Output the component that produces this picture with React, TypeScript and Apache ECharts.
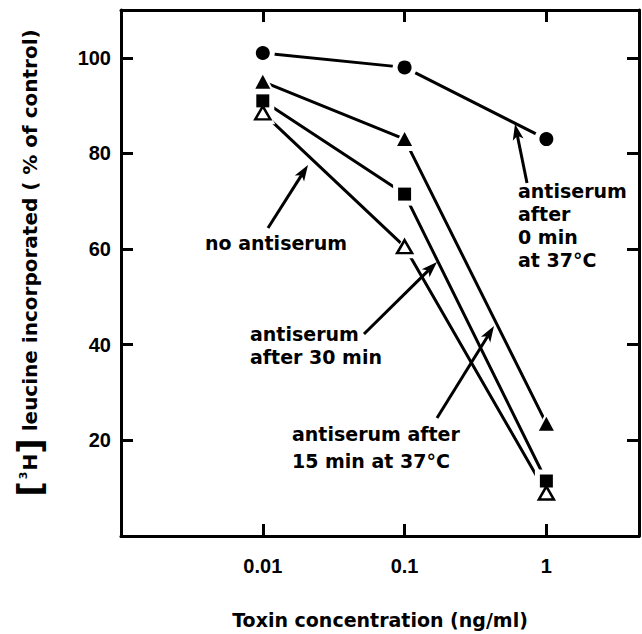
import React, { useEffect, useRef } from "react";
import * as echarts from "echarts";

// ---- data ----
const concentrations = [0.01, 0.1, 1];
const xTickLabels = ["0.01", "0.1", "1"];
const after0min = [101, 98, 83];
const after15min = [95, 83, 23.5];
const after30min = [91, 71.5, 11.5];
const noAntiserum = [88.5, 60.5, 9];

const FONT = '"DejaVu Sans", sans-serif';
const TICK_FONT = '"Liberation Sans", Arial, sans-serif';

type Group = {
  name: string;
  values: number[];
  symbol: string;
  size: number | number[];
  open: boolean;
};

const groups: Group[] = [
  { name: "antiserum after 0 min", values: after0min, symbol: "circle", size: 14, open: false },
  { name: "antiserum after 15 min", values: after15min, symbol: "triangle", size: [15, 14], open: false },
  { name: "antiserum after 30 min", values: after30min, symbol: "rect", size: 13, open: false },
  { name: "no antiserum", values: noAntiserum, symbol: "triangle", size: [15, 13], open: true },
];

function grow(s: number | number[], d: number): number | number[] {
  return Array.isArray(s) ? s.map((v) => v + d) : s + d;
}

function arrow(x1: number, y1: number, x2: number, y2: number) {
  const dx = x2 - x1;
  const dy = y2 - y1;
  const len = Math.hypot(dx, dy);
  const ux = dx / len;
  const uy = dy / len;
  const px = -uy;
  const py = ux;
  const L = 16;
  const W = 5.5;
  const bx = x2 - ux * L;
  const by = y2 - uy * L;
  const nx = x2 - ux * (L - 4);
  const ny = y2 - uy * (L - 4);
  return [
    {
      type: "line",
      shape: { x1, y1, x2: nx, y2: ny },
      style: { stroke: "#000", lineWidth: 3 },
    },
    {
      type: "polygon",
      shape: {
        points: [
          [x2, y2],
          [bx + px * W, by + py * W],
          [nx, ny],
          [bx - px * W, by - py * W],
        ],
      },
      style: { fill: "#000" },
    },
  ];
}

function annotation(x: number, y: number, text: string, lineHeight: number) {
  return {
    type: "text",
    x,
    y,
    style: {
      text,
      fill: "#000",
      fontFamily: FONT,
      fontWeight: "bold",
      fontSize: 19,
      lineHeight,
      align: "left",
      verticalAlign: "top",
    },
  };
}

export default function App() {
  const ref = useRef<HTMLDivElement>(null);

  useEffect(() => {
    if (!ref.current) return;
    const chart = echarts.init(ref.current, null, { renderer: "svg" });

    const axisLine = { show: true, onZero: false, lineStyle: { color: "#000", width: 3 } };
    const axisTick = { show: true, inside: true, length: 12, lineStyle: { color: "#000", width: 3 } };

    const xFormatter = (v: number) => {
      const i = concentrations.findIndex((c) => Math.abs(Math.log10(c) - Math.log10(v)) < 1e-6);
      return i >= 0 ? xTickLabels[i] : "";
    };

    const lineSeries = groups.map((g) => ({
      type: "line",
      name: g.name,
      data: concentrations.map((c, i) => [c, g.values[i]]),
      symbol: "none",
      lineStyle: { color: "#000", width: 3, opacity: 1 },
      z: 2,
      silent: true,
    }));
    const haloSeries = groups.map((g) => ({
      type: "scatter",
      name: g.name + " halo",
      data: concentrations.map((c, i) => [c, g.values[i]]),
      symbol: g.symbol,
      symbolSize: grow(g.size, 10),
      itemStyle: { color: "#fff", opacity: 1 },
      z: 3,
      silent: true,
    }));
    const markerSeries = groups.map((g) => ({
      type: "scatter",
      name: g.name,
      data: concentrations.map((c, i) => [c, g.values[i]]),
      symbol: g.symbol,
      symbolSize: g.size,
      itemStyle: g.open
        ? { color: "#fff", borderColor: "#000", borderWidth: 2.5, opacity: 1 }
        : { color: "#000", opacity: 1 },
      z: 4,
      silent: true,
    }));

    chart.setOption({
      animation: false,
      backgroundColor: "#fff",
      grid: { left: 121, top: 10, right: 3, bottom: 98, containLabel: false },
      xAxis: [
        {
          type: "log",
          logBase: 10,
          min: 0.001,
          max: 4.5,
          position: "bottom",
          axisLine,
          axisTick,
          splitLine: { show: false },
          axisLabel: {
            show: true,
            margin: 20,
            color: "#000",
            fontSize: 20,
            fontWeight: "bold",
            fontFamily: TICK_FONT,
            showMinLabel: false,
            showMaxLabel: false,
            formatter: xFormatter,
          },
          name: "Toxin concentration (ng/ml)",
          nameLocation: "middle",
          nameGap: 74,
          nameTextStyle: {
            color: "#000",
            fontSize: 19,
            fontWeight: "bold",
            fontFamily: FONT,
          },
        },
        {
          type: "log",
          logBase: 10,
          min: 0.001,
          max: 4.5,
          position: "top",
          axisLine,
          axisTick,
          splitLine: { show: false },
          axisLabel: { show: false },
        },
      ],
      yAxis: [
        {
          type: "value",
          min: 0,
          max: 110,
          interval: 20,
          position: "left",
          axisLine,
          axisTick,
          splitLine: { show: false },
          axisLabel: {
            show: true,
            margin: 10,
            color: "#000",
            fontSize: 20,
            fontWeight: "bold",
            fontFamily: TICK_FONT,
            showMinLabel: false,
            showMaxLabel: false,
          },
        },
        {
          type: "value",
          min: 0,
          max: 110,
          interval: 20,
          position: "right",
          axisLine,
          axisTick,
          splitLine: { show: false },
          axisLabel: { show: false },
        },
      ],
      series: [...lineSeries, ...haloSeries, ...markerSeries],
      graphic: [
        {
          type: "text",
          x: 30,
          y: 263,
          rotation: Math.PI / 2,
          style: {
            text: "{br|[}{sup|3}{h|H}{br|]}{t| leucine incorporated ( % of control)}",
            align: "center",
            verticalAlign: "middle",
            fill: "#000",
            rich: {
              br: { fontSize: 34, fontWeight: "bold", fontFamily: FONT, lineHeight: 36, verticalAlign: "middle" },
              sup: { fontSize: 11, fontWeight: "bold", fontFamily: FONT, lineHeight: 36, verticalAlign: "top", padding: [6, 1, 0, 2] },
              h: { fontSize: 20, fontWeight: "bold", fontFamily: FONT, lineHeight: 36, verticalAlign: "middle" },
              t: { fontSize: 20, fontWeight: "bold", fontFamily: FONT, lineHeight: 36, verticalAlign: "middle" },
            },
          },
        },
        annotation(518, 179, "antiserum\nafter\n0 min\nat 37°C", 23),
        annotation(205, 231, "no antiserum", 23),
        annotation(250, 322, "antiserum\nafter 30 min", 23),
        annotation(292, 420, "antiserum after\n15 min at 37°C", 27),
        ...arrow(527, 183, 515, 124),
        ...arrow(268, 228, 308, 165),
        ...arrow(364, 334, 437, 262),
        ...arrow(437, 418, 494, 326),
      ],
    });

    return () => chart.dispose();
  }, []);

  return (
    <div
      ref={ref}
      style={{ position: "absolute", left: 0, top: 0, width: 642, height: 634 }}
    />
  );
}
